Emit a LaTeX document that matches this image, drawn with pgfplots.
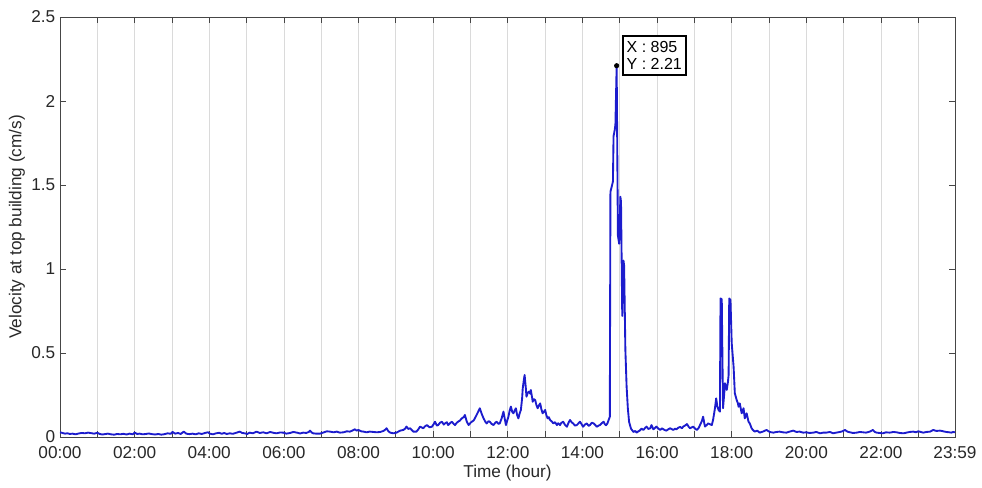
\documentclass[border=0pt]{standalone}
\usepackage{pgfplots}
\pgfplotsset{compat=1.18}
\usepackage{fontspec}
\setmainfont{Liberation Sans}
\definecolor{trace}{RGB}{28,28,205}
\definecolor{axisgray}{RGB}{70,70,70}
\definecolor{txt}{RGB}{40,40,40}
\definecolor{gridgray}{RGB}{218,218,218}

\begin{document}
\begin{tikzpicture}
\useasboundingbox (-45pt,-37.5pt) rectangle (691.5pt,327.75pt);
\begin{axis}[
  at={(0pt,0pt)}, anchor=south west,
  scale only axis,
  width=671.25pt, height=315pt,
  xmin=0, xmax=1439, ymin=0, ymax=2.5,
  enlargelimits=false,
  axis line style={axisgray, line width=0.6pt},
  xtick={0,60,...,1380,1439},
  xticklabels={00:00,,02:00,,04:00,,06:00,,08:00,,10:00,,12:00,,14:00,,16:00,,18:00,,20:00,,22:00,,23:59},
  ytick={0,0.5,1,1.5,2,2.5},
  tick align=inside,
  major tick length=4.5pt,
  tick style={axisgray, line width=0.6pt},
  xmajorgrids,
  grid style={gridgray, line width=0.6pt},
  /pgf/number format/assume math mode=true,
  ticklabel style={font=\fontsize{12.9}{15}\selectfont, text=txt},
  xticklabel style={yshift=-3.5pt},
  xlabel={Time (hour)},
  ylabel={Velocity at top building (cm/s)},
  label style={font=\fontsize{12.9}{15}\selectfont, text=txt},
  xlabel style={yshift=2pt},
  ylabel style={yshift=-2pt},
]
\addplot[trace, line width=1.4pt, line join=round] coordinates {
(0,0.028)(4,0.024)(8,0.020)(12,0.022)(16,0.018)(20,0.020)(25,0.016)(30,0.021)
(35,0.024)(40,0.022)(45,0.026)(50,0.023)(55,0.020)(60,0.025)(64,0.018)(68,0.015)
(72,0.017)(77,0.020)(82,0.016)(87,0.014)(92,0.018)(97,0.016)(102,0.019)(107,0.015)
(112,0.020)(117,0.016)(120,0.026)(124,0.018)(128,0.020)(133,0.016)(138,0.018)(143,0.021)
(148,0.017)(153,0.015)(158,0.018)(163,0.014)(168,0.017)(173,0.022)(178,0.019)(181,0.030)
(185,0.020)(190,0.024)(194,0.018)(199,0.032)(203,0.020)(208,0.017)(213,0.020)(218,0.016)
(223,0.022)(228,0.018)(233,0.024)(238,0.028)(241,0.020)(246,0.016)(251,0.022)(256,0.025)
(260,0.019)(264,0.024)(268,0.018)(273,0.022)(278,0.019)(284,0.026)(289,0.032)(293,0.024)
(297,0.022)(301,0.018)(305,0.026)(310,0.022)(316,0.032)(321,0.024)(327,0.028)(332,0.022)
(338,0.030)(343,0.025)(348,0.022)(354,0.027)(359,0.026)(364,0.020)(370,0.024)(375,0.030)
(381,0.026)(386,0.021)(391,0.026)(396,0.024)(400,0.030)(402,0.038)(405,0.026)(407,0.022)
(412,0.020)(418,0.020)(423,0.026)(429,0.034)(434,0.032)(440,0.028)(445,0.032)(450,0.026)
(456,0.028)(461,0.034)(466,0.032)(470,0.038)(474,0.046)(477,0.038)(480,0.042)(484,0.034)
(488,0.032)(493,0.028)(498,0.032)(504,0.030)(509,0.028)(515,0.030)(520,0.036)(523,0.044)
(525,0.052)(528,0.034)(531,0.026)(536,0.022)(541,0.026)(544,0.032)(547,0.038)(552,0.042)
(555,0.050)(557,0.062)(560,0.048)(563,0.052)(566,0.040)(568,0.032)(573,0.032)(576,0.045)
(579,0.062)(584,0.052)(587,0.064)(590,0.071)(594,0.058)(598,0.061)(601,0.078)(603,0.091)
(606,0.068)(608,0.071)(611,0.085)(614,0.091)(617,0.074)(619,0.081)(622,0.088)(624,0.071)
(627,0.082)(630,0.091)(633,0.078)(635,0.071)(638,0.085)(640,0.091)(643,0.098)(646,0.111)
(649,0.118)(651,0.131)(654,0.092)(657,0.071)(660,0.084)(662,0.091)(665,0.098)(667,0.111)
(671,0.140)(675,0.171)(678,0.138)(681,0.111)(684,0.090)(686,0.081)(689,0.094)(691,0.091)
(694,0.078)(697,0.071)(700,0.086)(702,0.091)(705,0.078)(707,0.081)(710,0.110)(713,0.151)
(715,0.110)(717,0.071)(719,0.098)(721,0.121)(723,0.158)(725,0.181)(727,0.150)(729,0.141)
(731,0.158)(733,0.171)(735,0.130)(737,0.111)(739,0.140)(741,0.161)(743,0.230)(744,0.290)
(746,0.345)(747,0.369)(749,0.290)(750,0.240)(752,0.262)(754,0.270)(756,0.258)(757,0.280)
(759,0.236)(760,0.210)(762,0.225)(764,0.220)(766,0.190)(768,0.171)(770,0.188)(772,0.200)
(774,0.165)(776,0.141)(778,0.150)(780,0.161)(782,0.130)(784,0.111)(786,0.118)(788,0.101)
(791,0.092)(793,0.081)(796,0.088)(799,0.071)(801,0.082)(804,0.071)(806,0.084)(809,0.091)
(812,0.072)(815,0.061)(818,0.088)(820,0.101)(823,0.086)(825,0.081)(828,0.068)(831,0.071)
(834,0.083)(836,0.091)(839,0.074)(841,0.061)(844,0.074)(847,0.081)(850,0.066)(852,0.071)
(855,0.085)(858,0.081)(861,0.070)(863,0.061)(866,0.068)(868,0.071)(871,0.082)(874,0.091)
(876,0.076)(878,0.070)(880,0.080)(882,0.100)(884,0.120)(885,1.46)(887,1.49)(889,1.52)
(890,1.79)(892,1.83)(893,1.86)(895,2.21)(897,1.20)(899,1.15)(901,1.43)(902,1.40)
(904,0.72)(906,1.05)(907,1.02)(909,0.52)(911,0.30)(913,0.17)(915,0.09)(918,0.050)
(922,0.030)(925,0.036)(927,0.026)(930,0.034)(932,0.038)(935,0.050)(938,0.042)(941,0.055)
(943,0.062)(946,0.048)(949,0.052)(951,0.071)(954,0.046)(957,0.055)(959,0.062)(962,0.050)
(965,0.042)(968,0.052)(970,0.046)(973,0.040)(975,0.038)(978,0.046)(981,0.052)(984,0.046)
(986,0.042)(989,0.050)(991,0.046)(994,0.055)(997,0.060)(1000,0.052)(1002,0.062)(1005,0.068)
(1008,0.077)(1011,0.060)(1013,0.052)(1016,0.058)(1018,0.062)(1021,0.050)(1024,0.042)(1027,0.055)
(1029,0.071)(1032,0.095)(1034,0.121)(1036,0.080)(1037,0.062)(1040,0.072)(1042,0.081)(1045,0.076)
(1048,0.071)(1050,0.101)(1053,0.170)(1055,0.230)(1057,0.180)(1059,0.160)(1061,0.151)(1062,0.825)
(1064,0.820)(1066,0.171)(1068,0.260)(1069,0.320)(1071,0.300)(1072,0.280)(1074,0.330)(1075,0.369)
(1076,0.825)(1078,0.815)(1080,0.558)(1083,0.419)(1085,0.260)(1088,0.220)(1090,0.200)(1091,0.180)
(1093,0.200)(1096,0.141)(1099,0.171)(1101,0.111)(1104,0.141)(1107,0.091)(1109,0.081)(1112,0.052)
(1114,0.042)(1117,0.032)(1121,0.038)(1125,0.026)(1130,0.032)(1136,0.042)(1141,0.030)(1147,0.026)
(1152,0.030)(1157,0.032)(1162,0.028)(1168,0.026)(1173,0.032)(1179,0.038)(1184,0.030)(1189,0.032)
(1195,0.026)(1200,0.028)(1205,0.024)(1211,0.026)(1216,0.030)(1222,0.022)(1227,0.026)(1232,0.026)
(1238,0.030)(1243,0.022)(1248,0.026)(1254,0.030)(1258,0.034)(1262,0.042)(1266,0.032)(1270,0.028)
(1275,0.024)(1281,0.026)(1286,0.030)(1291,0.028)(1296,0.026)(1302,0.032)(1307,0.042)(1310,0.030)
(1313,0.026)(1318,0.024)(1323,0.022)(1328,0.028)(1334,0.026)(1340,0.030)(1345,0.028)(1350,0.024)
(1356,0.022)(1361,0.026)(1366,0.030)(1372,0.032)(1376,0.028)(1380,0.034)(1384,0.030)(1388,0.026)
(1393,0.030)(1399,0.032)(1404,0.042)(1409,0.036)(1415,0.038)(1420,0.034)(1425,0.030)(1430,0.028)
(1433,0.026)(1436,0.030)(1439,0.028)
};
% data tip on the highest sample
\addplot[only marks, mark=*, mark size=1.7pt, black] coordinates {(895,2.21)};
\node[draw=black, line width=1.5pt, fill=white, anchor=south west,
      xshift=3.75pt, yshift=-7.5pt, inner xsep=3pt, inner ysep=4pt,
      align=left, font=\fontsize{12}{13}\selectfont, text=black]
  at (axis cs:895,2.21) {X : 895\\Y : 2.21};
\end{axis}
\end{tikzpicture}
\end{document}
